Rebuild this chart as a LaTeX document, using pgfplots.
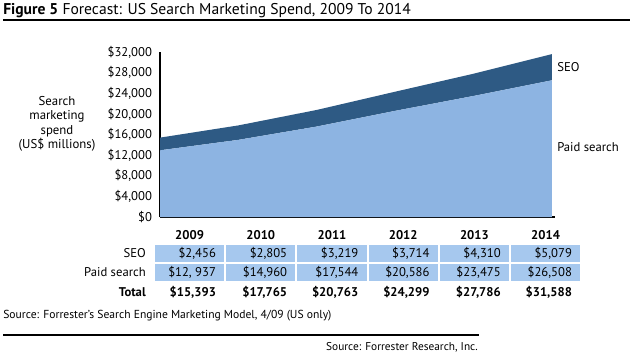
\documentclass[border=0pt]{standalone}
\usepackage{pgfplots}
\pgfplotsset{compat=1.18}
\usepackage{fontspec}
\setmainfont{PT Sans}
\definecolor{paid}{HTML}{8DB4E2}
\definecolor{seo}{HTML}{2E5A84}
\definecolor{cell}{HTML}{A6C8EE}
\begin{document}
\begin{tikzpicture}
\begin{scope}[x=0.75pt,y=-0.75pt]
\path[use as bounding box] (0,0) rectangle (630,361);
\coordinate (O) at (160,217);
% title
\node[anchor=base west, inner sep=0, font=\fontsize{11.7}{13}\selectfont] at (3,14.5) {\textbf{Figure 5} Forecast: US Search Marketing Spend, 2009 To 2014};
\draw[line width=0.9pt] (3,20) -- (630,20);
% y label
\node[align=center, inner sep=0, font=\fontsize{9.6}{10.9}\selectfont] at (57,124) {Search\\marketing\\spend\\(US\$ millions)};
% series labels
\node[anchor=west, inner sep=0, font=\fontsize{9.5}{11}\selectfont] at (557,67) {SEO};
\node[anchor=west, inner sep=0, font=\fontsize{9.5}{11}\selectfont] at (557,147) {Paid search};
% table
\foreach \i/\yr/\s/\p/\t in {0/2009/{\$2,456}/{\$12, 937}/{\$15,393},
                             1/2010/{\$2,805}/{\$14,960}/{\$17,765},
                             2/2011/{\$3,219}/{\$17,544}/{\$20,763},
                             3/2012/{\$3,714}/{\$20,586}/{\$24,299},
                             4/2013/{\$4,310}/{\$23,475}/{\$27,786},
                             5/2014/{\$5,079}/{\$26,508}/{\$31,588}} {
  \pgfmathsetmacro{\L}{155+71.2*\i}
  \pgfmathsetmacro{\R}{155+71.2*(\i+1)-2}
  \pgfmathsetmacro{\C}{(\L+\R)/2}
  \pgfmathsetmacro{\T}{\R-8}
  \fill[cell] (\L,245) rectangle (\R,262);
  \fill[cell] (\L,264) rectangle (\R,281);
  \node[font=\fontsize{9.5}{11}\selectfont\bfseries, inner sep=0] at (\C,235) {\yr};
  \node[anchor=east, font=\fontsize{9.5}{11}\selectfont, inner sep=0] at (\T,253.5) {\s};
  \node[anchor=east, font=\fontsize{9.5}{11}\selectfont, inner sep=0] at (\T,272) {\p};
  \node[anchor=east, font=\fontsize{9.5}{11}\selectfont\bfseries, inner sep=0] at (\T,292) {\t};
}
\node[anchor=east, font=\fontsize{9.5}{11}\selectfont, inner sep=0] at (146,253.5) {SEO};
\node[anchor=east, font=\fontsize{9.5}{11}\selectfont, inner sep=0] at (146,272) {Paid search};
\node[anchor=east, font=\fontsize{9.5}{11}\selectfont\bfseries, inner sep=0] at (146,292) {Total};
% sources
\node[anchor=west, font=\fontsize{8.7}{11}\selectfont, inner sep=0] at (3,316) {Source: Forrester’s Search Engine Marketing Model, 4/09 (US only)};
\draw[line width=0.8pt] (3,335) -- (479,335);
\node[anchor=east, font=\fontsize{8.5}{10}\selectfont, inner sep=0] at (478,347) {Source: Forrester Research, Inc.};
\end{scope}

\begin{axis}[
  at={(O)}, anchor=south west,
  scale only axis, width=296.25pt, height=123.75pt,
  xmin=0, xmax=5.04, ymin=0, ymax=32000,
  axis x line*=bottom, axis y line*=left,
  axis line style={line width=0.8pt, -},
  xtick=\empty,
  scaled y ticks=false,
  ytick={0,4000,8000,12000,16000,20000,24000,28000,32000},
  yticklabels={{\$0},{\$4,000},{\$8,000},{\$12,000},{\$16,000},{\$20,000},{\$24,000},{\$28,000},{\$32,000}},
  major tick length=0pt,
  yticklabel style={font=\fontsize{9.5}{10}\selectfont, xshift=-2.5pt},
  stack plots=y,
  clip=false,
]
\addplot[fill=paid, draw=none] coordinates {(0,12937) (1,14960) (2,17544) (3,20586) (4,23475) (5,26508)} \closedcycle;
\addplot[fill=seo, draw=none] coordinates {(0,2456) (1,2805) (2,3219) (3,3714) (4,4310) (5,5079)} \closedcycle;
\end{axis}
\end{tikzpicture}
\end{document}
